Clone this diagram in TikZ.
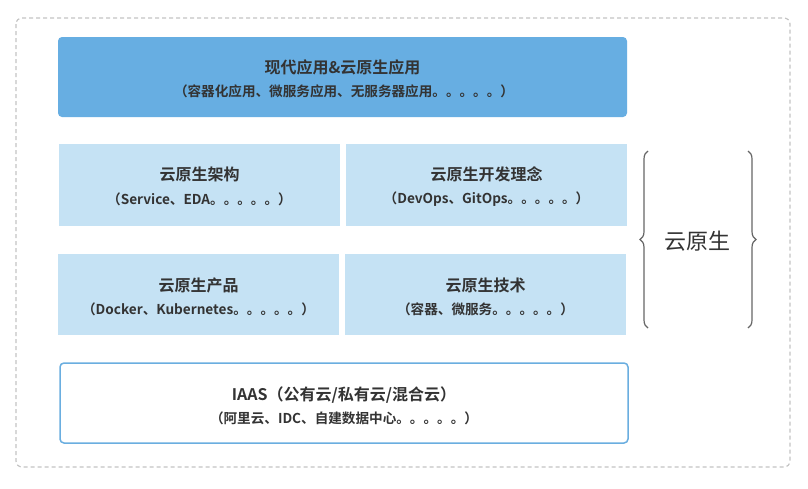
\documentclass[tikz,border=0pt]{standalone}
\usepackage{fontspec}
\newfontfamily\cjk{Noto Sans CJK SC}
\newfontfamily\cjkb{Noto Sans CJK SC Bold}
\usetikzlibrary{decorations.pathreplacing}
\definecolor{darkblue}{HTML}{67AEE2}
\definecolor{lightblue}{HTML}{C5E2F4}
\definecolor{edgeblue}{HTML}{6AAEE0}
\definecolor{txt}{HTML}{333333}
\definecolor{dashgray}{HTML}{C4C4C4}
\definecolor{bracegray}{HTML}{666666}
\tikzset{
  title/.style={font=\cjkb\fontsize{16}{18}\selectfont, text=txt},
  sub/.style={font=\cjkb\fontsize{13.6}{15}\selectfont, text=txt},
  bracestyle/.style={draw=bracegray, line width=1.2pt, decorate, decoration={brace, amplitude=8pt}}
}
\begin{document}
\begin{tikzpicture}[x=1pt,y=-1pt]
\useasboundingbox (0,0) rectangle (808,488);
\fill[white] (0,0) rectangle (808,488);
\draw[dashgray, line width=1.2pt, dash pattern=on 4pt off 3pt, rounded corners=6pt] (16,18) rectangle (790,467);
% top
\fill[darkblue, rounded corners=4pt] (58,37) rectangle (627,117);
\node[title] (t1) at (342.5,67) {现代应用\&云原生应用};
\node[sub] (s1) at (344,91) {（容器化应用、微服务应用、无服务器应用。。。。。）};
% middle
\fill[lightblue] (59,144) rectangle (340,226);
\fill[lightblue] (346,144) rectangle (627,226);
\fill[lightblue] (58,254) rectangle (339,335);
\fill[lightblue] (345,254) rectangle (626,335);
\node[title] (a1) at (199.5,174) {云原生架构};
\node[sub] (a2) at (199.5,199) {（Service、EDA。。。。。）};
\node[title] (b1) at (486.5,174) {云原生开发理念};
\node[sub] (b2) at (486.5,199) {（DevOps、GitOps。。。。。）};
\node[title] (c1) at (198.5,285) {云原生产品};
\node[sub] (c2) at (198.5,309) {（Docker、Kubernetes。。。。。）};
\node[title] (d1) at (485.5,285) {云原生技术};
\node[sub] (d2) at (485.5,309) {（容器、微服务。。。。。）};
% bottom
\draw[edgeblue, line width=1.5pt, fill=white, rounded corners=4pt] (60,363) rectangle (628,443);
\node[title] (e1) at (344,395) {IAAS（公有云/私有云/混合云）};
\node[sub] (e2) at (344,418) {（阿里云、IDC、自建数据中心。。。。。）};
% braces
\coordinate (lb1) at (648,328);
\coordinate (lb2) at (648,151);
\coordinate (rb1) at (748,151);
\coordinate (rb2) at (748,328);
\draw[bracestyle] (lb1) -- (lb2);
\draw[bracestyle] (rb1) -- (rb2);
\node[font=\cjk\fontsize{22}{24}\selectfont, text=txt] (yy) at (697,241) {云原生};
\end{tikzpicture}
\end{document}
